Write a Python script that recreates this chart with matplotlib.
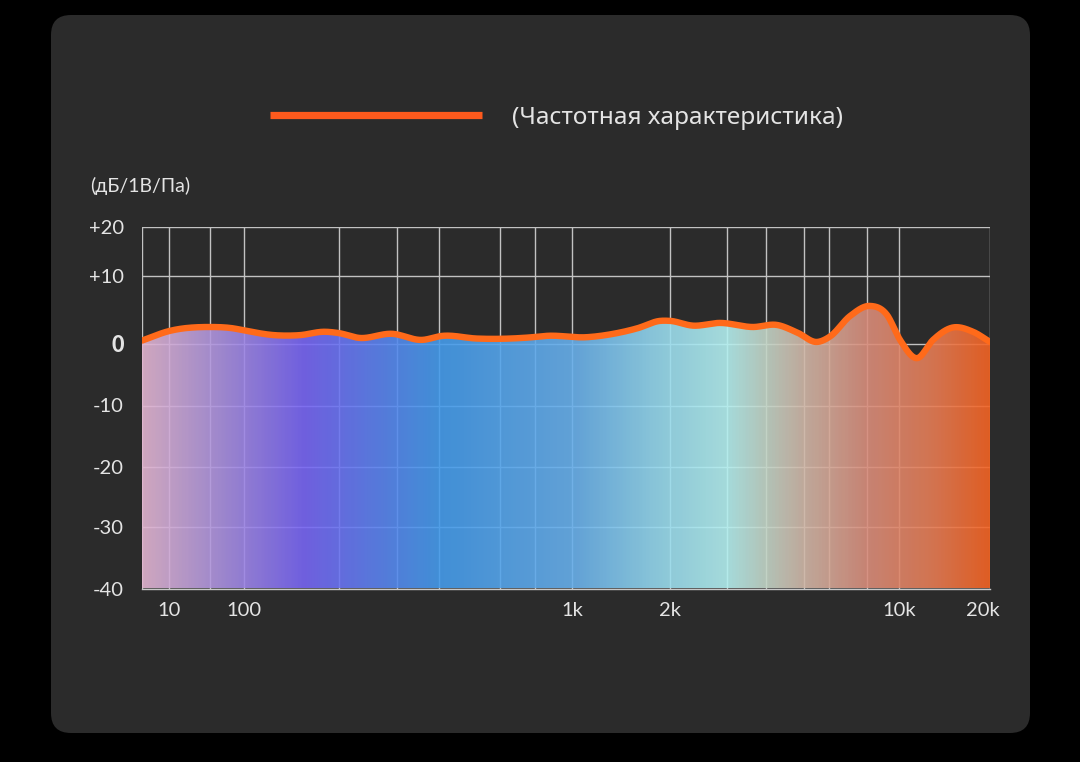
import numpy as np
import matplotlib
matplotlib.use('Agg')
import matplotlib.pyplot as plt
from matplotlib.patches import FancyBboxPatch
from matplotlib.colors import LinearSegmentedColormap, to_rgb
from matplotlib.transforms import ScaledTranslation

# ---- data ----
freq_hz = [5, 10, 40, 75, 100, 125, 150, 180, 200, 230, 290, 355, 410, 515,
           785, 860, 1110, 1375, 1585, 1865, 2000, 2355, 2850, 3635, 4270,
           4800, 5500, 6045, 7030, 8170, 9190, 10080, 11470, 12960, 14970,
           17570, 20000]
response_db = [0.5, 1.9, 2.5, 2.3, 2.0, 1.3, 1.3, 1.8, 1.6, 0.9, 1.5, 0.6, 1.2, 0.8,
               1.0, 1.2, 1.0, 1.6, 2.3, 3.4, 3.4, 2.7, 3.1, 2.5, 2.8,
               1.7, 0.3, 1.1, 4.1, 5.6, 4.3, 0.6, -2.3, 0.6, 2.4,
               1.8, 0.3]

x_tick_hz = [10, 100, 1000, 2000, 10000, 20000]
x_tick_labels = ['10', '100', '1k', '2k', '10k', '20k']
x_grid_hz = [5, 10, 40, 100, 200, 300, 400, 600, 800, 1000, 2000, 3000,
             4000, 5000, 6000, 8000, 10000, 20000]
y_ticks_db = [20, 10, 0, -10, -20, -30, -40]
y_tick_labels = ['+20', '+10', '0', '-10', '-20', '-30', '-40']

series_label = '(Частотная характеристика)'
unit_label = '(дБ/1В/Па)'

# ---- custom axis layout (uneven spacing as in the original) ----
x_anchor_hz = [5, 10, 40, 100, 200, 300, 400, 600, 800, 1000, 2000, 3000,
               4000, 5000, 6000, 8000, 10000, 20000]
x_anchor_pos = [142, 169, 210, 244, 339, 397, 439, 500, 535, 572, 670, 727,
                766, 804, 829, 867, 899, 990]
y_anchor_db = [-40, -30, -20, -10, 0, 10, 20]
y_anchor_pos = [0, 61.5, 121.5, 183, 244.5, 312.5, 361.5]

lx = np.log10(x_anchor_hz)
px = np.array(x_anchor_pos, float)
py = np.array(y_anchor_pos, float)


def fwd_x(f):
    f = np.clip(np.asarray(f, float), 1e-6, None)
    return np.interp(np.log10(f), lx, px)


def inv_x(p):
    return 10 ** np.interp(np.asarray(p, float), px, lx)


def fwd_y(v):
    return np.interp(np.asarray(v, float), y_anchor_db, py)


def inv_y(p):
    return np.interp(np.asarray(p, float), py, y_anchor_db)


def smooth(xs, ys, n=40):
    """cubic hermite through the points, done in screen space"""
    xs = np.asarray(xs, float)
    ys = np.asarray(ys, float)
    m = np.gradient(ys, xs)
    out_x, out_y = [], []
    for i in range(len(xs) - 1):
        t = np.linspace(0, 1, n, endpoint=False)
        h = xs[i + 1] - xs[i]
        h00 = 2 * t**3 - 3 * t**2 + 1
        h10 = t**3 - 2 * t**2 + t
        h01 = -2 * t**3 + 3 * t**2
        h11 = t**3 - t**2
        out_x.append(xs[i] + t * h)
        out_y.append(h00 * ys[i] + h10 * h * m[i] + h01 * ys[i + 1] + h11 * h * m[i + 1])
    out_x.append([xs[-1]])
    out_y.append([ys[-1]])
    return np.concatenate(out_x), np.concatenate(out_y)


sx, sy = smooth(fwd_x(freq_hz), fwd_y(response_db))
curve_hz = inv_x(sx)
curve_db = inv_y(sy)

# ---- figure ----
BG = '#2b2b2b'
TXT = '#e4e4e4'
fig = plt.figure(figsize=(10.8, 7.62), dpi=100)
fig.patch.set_facecolor('black')
card = FancyBboxPatch((0.51, 0.29), 9.79, 7.18,
                      boxstyle='round,pad=0,rounding_size=0.2',
                      transform=fig.dpi_scale_trans, facecolor=BG,
                      edgecolor='none', zorder=-10)
fig.patches.append(card)

W, H = 1080, 762
ax = fig.add_axes([142 / W, (H - 588.5) / H, (990 - 142) / W, (588.5 - 227) / H])
ax.set_zorder(2)
ax.set_facecolor('none')
ax.set_xscale('function', functions=(fwd_x, inv_x))
ax.set_yscale('function', functions=(fwd_y, inv_y))
ax.set_xlim(5, 20000)
ax.set_ylim(-40, 20)

# grid
for f in x_grid_hz:
    ax.axvline(f, color='#c2c2c2', lw=1, zorder=1)
for v in y_ticks_db:
    ax.axhline(v, color='#c2c2c2', lw=1, zorder=1)

# gradient fill under the curve
alpha = 0.9
bg_rgb = np.array(to_rgb(BG))
stops = [(0.0, '#d0a8c0'), (0.08, '#a48ccc'), (0.19, '#7060e0'), (0.35, '#4290d8'),
         (0.507, '#62a2d8'), (0.61, '#8cc8da'), (0.69, '#a6dcdc'), (0.736, '#b4c4b8'),
         (0.78, '#c0aa9c'), (0.855, '#c88474'), (0.935, '#d47450'), (1.0, '#e05e24')]
comp = []
for pos, c in stops:
    rgb = (np.array(to_rgb(c)) - (1 - alpha) * bg_rgb) / alpha
    comp.append((pos, tuple(np.clip(rgb, 0, 1))))
cmap = LinearSegmentedColormap.from_list('fr', comp)
grad = np.linspace(0, 1, 512).reshape(1, -1)
im = ax.imshow(grad, cmap=cmap, aspect='auto', extent=[0, 1, 0, 1],
               transform=ax.transAxes, alpha=alpha, zorder=2, interpolation='bilinear')
poly = ax.fill_between(curve_hz, curve_db, -40, facecolor='none', edgecolor='none')
im.set_clip_path(poly.get_paths()[0], transform=poly.get_transform())

# curve
ax.plot(curve_hz, curve_db, color='#ff6a1a', lw=4.6, solid_capstyle='round',
        zorder=4, label=series_label)

# axes cosmetics
for s in ['top', 'left', 'right']:
    ax.spines[s].set_visible(False)
ax.spines['bottom'].set_color('#c8c8c8')
ax.spines['bottom'].set_linewidth(1)
ax.spines['bottom'].set_zorder(5)

tick_font = ['Lato', 'DejaVu Sans']
ax.set_xticks(x_tick_hz)
ax.set_xticklabels(x_tick_labels, family=tick_font, fontsize=14.5, color=TXT)
ax.set_yticks(y_ticks_db)
ax.set_yticklabels(y_tick_labels, family=tick_font, fontsize=14.5, color=TXT)
ax.tick_params(axis='x', length=0, pad=10)
ax.tick_params(axis='y', length=0, pad=13)
ax.minorticks_off()
for lab in ax.get_yticklabels():
    if lab.get_text() == '0':
        lab.set_fontweight(900)
        lab.set_fontsize(15.5)
# last x label sits a little inside the right edge
last = ax.get_xticklabels()[-1]
last.set_transform(last.get_transform() + ScaledTranslation(-7 / 100, 0, fig.dpi_scale_trans))

fig.text(90 / W, 1 - 186 / H, unit_label, family=tick_font, fontsize=14,
         color=TXT, ha='left', va='center')

leg = fig.legend(loc='center', bbox_to_anchor=(556 / W, 1 - 117.5 / H),
                 frameon=False, handlelength=8.7, handletextpad=1.2,
                 prop={'family': ['Noto Sans', 'DejaVu Sans'], 'size': 17.6})
for t in leg.get_texts():
    t.set_color(TXT)
for h in leg.legend_handles:
    h.set_color('#fe5a1d')
    h.set_linewidth(5.2)
    h.set_solid_capstyle('butt')

fig.savefig('out.png', dpi=100, facecolor='black')
